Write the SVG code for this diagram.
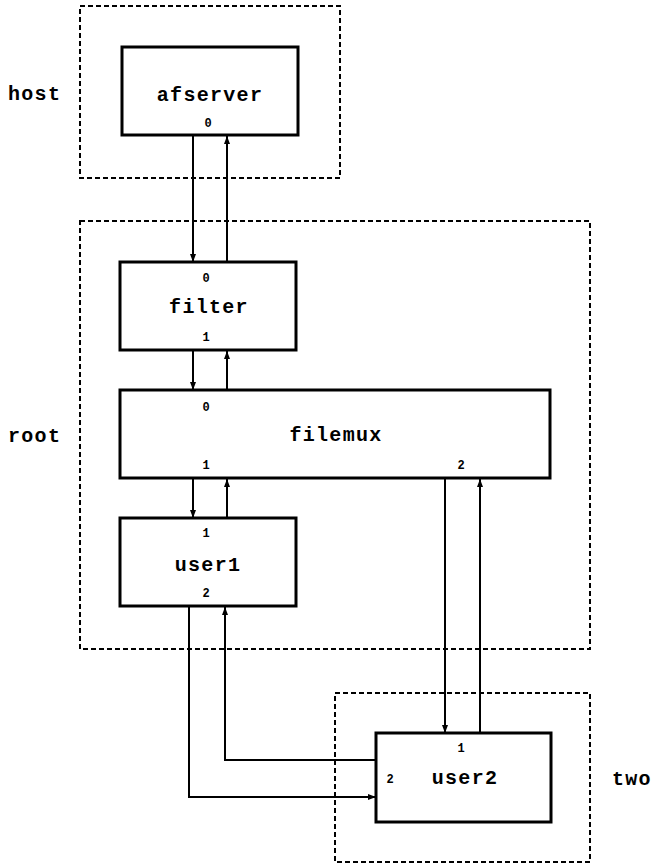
<svg xmlns="http://www.w3.org/2000/svg" width="660" height="865" viewBox="0 0 660 865">
<style>
.grp{fill:none;stroke:#000;stroke-width:2;stroke-dasharray:5 3}
.box{fill:#fff;stroke:#000;stroke-width:3}
.lbl{font-family:"Liberation Mono","DejaVu Sans Mono",monospace;font-weight:bold;font-size:20px;letter-spacing:1.3px;fill:#000}
.port{font-family:"Liberation Mono","DejaVu Sans Mono",monospace;font-weight:bold;font-size:12px;fill:#000;text-anchor:middle}
.mid{text-anchor:middle}
.c{fill:none;stroke:#000;stroke-width:2}
</style>
<defs>
<marker id="ah" viewBox="0 0 8 8" refX="8" refY="4" markerWidth="8" markerHeight="8" markerUnits="userSpaceOnUse" orient="auto">
<path d="M0,1 L8,4 L0,7 Z" fill="#000"/>
</marker>
</defs>
<g id="host"><rect class="grp" x="80" y="6" width="260" height="172"/><text class="lbl" x="8" y="100">host</text></g>
<g id="root"><rect class="grp" x="80" y="221" width="510" height="428"/><text class="lbl" x="8" y="442">root</text></g>
<g id="two"><rect class="grp" x="335" y="693" width="255" height="169"/><text class="lbl" x="612" y="785">two</text></g>
<g id="connectors">
<line class="c" x1="193" y1="136" x2="193" y2="262" marker-end="url(#ah)"/>
<line class="c" x1="227" y1="262" x2="227" y2="136" marker-end="url(#ah)"/>
<line class="c" x1="193" y1="351" x2="193" y2="390" marker-end="url(#ah)"/>
<line class="c" x1="227" y1="390" x2="227" y2="351" marker-end="url(#ah)"/>
<line class="c" x1="193" y1="479" x2="193" y2="518" marker-end="url(#ah)"/>
<line class="c" x1="227" y1="518" x2="227" y2="479" marker-end="url(#ah)"/>
<line class="c" x1="445" y1="479" x2="445" y2="733" marker-end="url(#ah)"/>
<line class="c" x1="480" y1="733" x2="480" y2="479" marker-end="url(#ah)"/>
<polyline class="c" points="189,607 189,797 376,797" marker-end="url(#ah)"/>
<polyline class="c" points="376,760 225,760 225,607" marker-end="url(#ah)"/>
</g>
<g id="afserver"><rect class="box" x="122" y="47" width="176" height="88"/><text class="lbl mid" x="210" y="101">afserver</text><text class="port" x="208" y="127">0</text></g>
<g id="filter"><rect class="box" x="120" y="262" width="176" height="88"/><text class="lbl mid" x="209" y="313">filter</text><text class="port" x="206" y="282">0</text><text class="port" x="206" y="341">1</text></g>
<g id="filemux"><rect class="box" x="120" y="390" width="430" height="88"/><text class="lbl mid" x="336" y="441">filemux</text><text class="port" x="206" y="411">0</text><text class="port" x="206" y="469">1</text><text class="port" x="461" y="469">2</text></g>
<g id="user1"><rect class="box" x="120" y="518" width="176" height="88"/><text class="lbl mid" x="208" y="571">user1</text><text class="port" x="206" y="537">1</text><text class="port" x="206" y="597">2</text></g>
<g id="user2"><rect class="box" x="376" y="733" width="175" height="89"/><text class="lbl mid" x="465" y="784">user2</text><text class="port" x="461" y="752">1</text><text class="port" x="390" y="783">2</text></g>
</svg>
